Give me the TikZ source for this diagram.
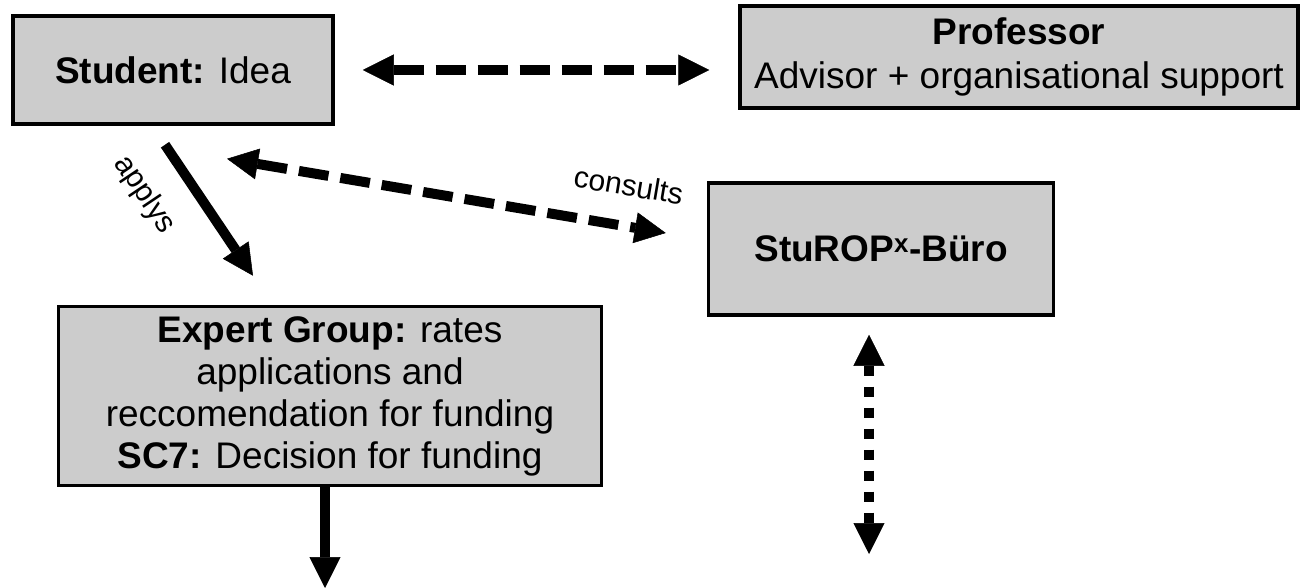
\documentclass[tikz,border=0pt]{standalone}
\usepackage{fontspec}
\setmainfont{Liberation Sans}
\usetikzlibrary{arrows.meta}
\definecolor{boxgray}{HTML}{CCCCCC}

\begin{document}
\begin{tikzpicture}[x=1pt,y=-1pt,
  box/.style={draw=black,line width=3.5pt,fill=boxgray,align=center,inner sep=0pt,font=\fontsize{37}{44}\selectfont},
  link/.style={line width=10pt,-{Triangle[length=31pt,width=31pt,line width=0.5pt]}},
  both/.style={line width=10pt,{Triangle[length=31pt,width=31pt,line width=0.5pt]}-{Triangle[length=31pt,width=31pt,line width=0.5pt]}},
  bigdash/.style={dash pattern=on 30pt off 12pt},
  smalldash/.style={dash pattern=on 10pt off 11pt},
  lbl/.style={font=\fontsize{30}{36}\selectfont,inner sep=0pt,sloped}]
\useasboundingbox (0,0) rectangle (1301,588);
%Построение блоков
\node[box,minimum width=320pt,minimum height=108pt] (student) at (173,70) {\textbf{Student:} Idea};
\node[box,minimum width=558pt,minimum height=102pt] (professor) at (1019,57) {\textbf{Professor}\\Advisor + organisational support};
\node[box,minimum width=345pt,minimum height=132pt] (sturop) at (881,249) {\textbf{StuROP\textsuperscript{x}-Büro}};
\node[box,minimum width=543pt,minimum height=179pt,font=\fontsize{37}{42}\selectfont] (expert) at (330,396) {\textbf{Expert Group:} rates\\applications and\\reccomendation for funding\\\textbf{SC7:} Decision for funding};
\coordinate (expEnd) at (325,588);
\coordinate (stuEnd) at (869,554);
%Построение стрелок
\draw[both,bigdash,shorten <=28pt,shorten >=29pt] (student.east) -- (student.east -| professor.west);
\draw[both,bigdash] ([shift={(54,33)}]student.south) -- ([shift={(-41,-16)}]sturop.west) node[lbl,pos=0.9,above=25pt] {consults};
\draw[link] ([shift={(-8,19)}]student.south) -- ([shift={(-77,-29)}]expert.north) node[lbl,pos=0.19,below=26pt] {applys};
\draw[link] (expert.south -| expEnd) -- (expEnd);
\draw[both,smalldash,shorten <=18pt] (sturop.south -| stuEnd) -- (stuEnd);
\end{tikzpicture}
\end{document}
